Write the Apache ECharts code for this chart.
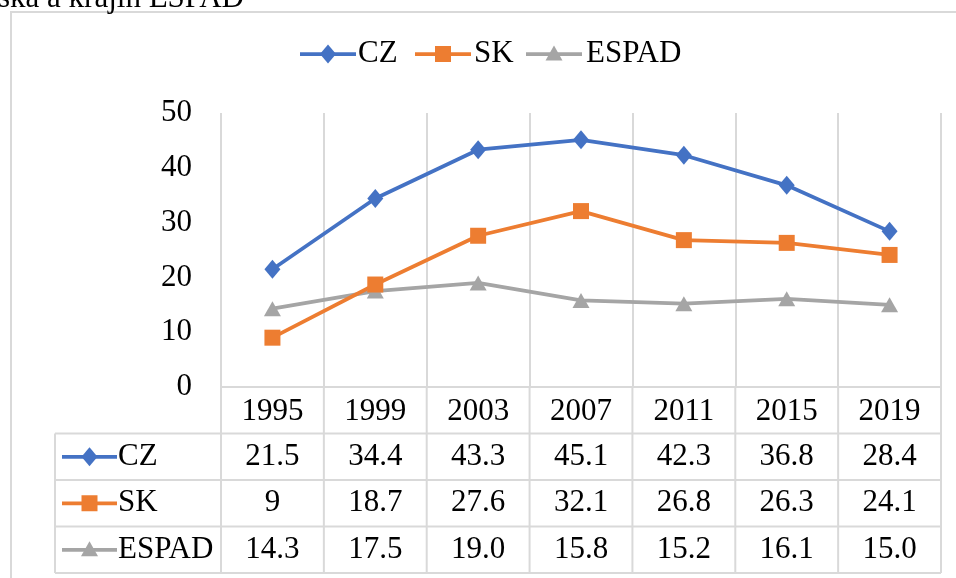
<!DOCTYPE html>
<html>
<head>
<meta charset="utf-8">
<script src="https://cdn.jsdelivr.net/npm/echarts@6/dist/echarts.min.js"></script>
<style>
html,body{margin:0;padding:0;background:#fff;}
#c{width:956px;height:578px;}
</style>
</head>
<body>
<div id="c"></div>
<script>
const titleText = 'ska a krajín ESPAD';
const years = ['1995','1999','2003','2007','2011','2015','2019'];
const seriesNames = ['CZ','SK','ESPAD'];
const cz = [21.5, 34.4, 43.3, 45.1, 42.3, 36.8, 28.4];
const sk = [9, 18.7, 27.6, 32.1, 26.8, 26.3, 24.1];
const espad = [14.3, 17.5, 19.0, 15.8, 15.2, 16.1, 15.0];
const tableLabels = [
  ['21.5','34.4','43.3','45.1','42.3','36.8','28.4'],
  ['9','18.7','27.6','32.1','26.8','26.3','24.1'],
  ['14.3','17.5','19.0','15.8','15.2','16.1','15.0']
];
const yTicks = [0, 10, 20, 30, 40, 50];

const FONT = '"Liberation Serif", "Times New Roman", serif';
const FS = 31;
const colors = ['#4472C4', '#ED7D31', '#A5A5A5'];
const symbols = ['diamond', 'rect', 'triangle'];
const symbolSizes = [[16, 19], 16, [17, 15]];
const GRID = '#D9D9D9';

const chart = echarts.init(document.getElementById('c'), null, {renderer: 'canvas'});

const values = [cz, sk, espad];
const option = {
  animation: false,
  backgroundColor: '#fff',
  color: colors,
  legend: {show: false, data: seriesNames},
  grid: {left: 221, right: 15, top: 113, bottom: 191, containLabel: false},
  xAxis: {
    type: 'category',
    data: years,
    boundaryGap: true,
    axisLine: {show: true, lineStyle: {color: GRID, width: 2}},
    axisTick: {show: false},
    splitLine: {show: true, interval: 0, lineStyle: {color: GRID, width: 2}},
    axisLabel: {interval: 0, fontFamily: FONT, fontSize: FS, color: '#000', margin: 9}
  },
  yAxis: {
    type: 'value',
    min: yTicks[0],
    max: yTicks[yTicks.length - 1],
    interval: 10,
    axisLine: {show: false},
    axisTick: {show: false},
    splitLine: {show: false},
    axisLabel: {fontFamily: FONT, fontSize: FS, color: '#000', margin: 29}
  },
  series: seriesNames.map((n, i) => ({
    name: n,
    type: 'line',
    data: values[i],
    symbol: symbols[i],
    symbolSize: symbolSizes[i],
    lineStyle: {width: 3.75, color: colors[i]},
    itemStyle: {color: colors[i]},
    z: 3 - i
  }))
};
chart.setOption(option);

const g = [];
const lineStyle = {stroke: GRID, lineWidth: 2};

function key(r, x1, x2, cy) {
  const mx = (x1 + x2) / 2;
  g.push({type: 'line', shape: {x1: x1, y1: cy, x2: x2, y2: cy}, style: {stroke: colors[r], lineWidth: 3.75}, silent: true});
  const ss = symbolSizes[r];
  const w = Array.isArray(ss) ? ss[0] : ss, h = Array.isArray(ss) ? ss[1] : ss;
  if (r === 0) {
    g.push({type: 'polygon', shape: {points: [[mx, cy - h / 2], [mx + w / 2, cy], [mx, cy + h / 2], [mx - w / 2, cy]]}, style: {fill: colors[r]}, silent: true});
  } else if (r === 1) {
    g.push({type: 'rect', shape: {x: mx - w / 2, y: cy - h / 2, width: w, height: h}, style: {fill: colors[r]}, silent: true});
  } else {
    g.push({type: 'polygon', shape: {points: [[mx, cy - h / 2 - 1], [mx + w / 2, cy + h / 2 - 1], [mx - w / 2, cy + h / 2 - 1]]}, style: {fill: colors[r]}, silent: true});
  }
}

// top legend
const legendKeys = [[300, 356], [415, 471], [526, 582]];
const legendTextX = [358, 474, 586];
for (let r = 0; r < 3; r++) {
  key(r, legendKeys[r][0], legendKeys[r][1], 54);
  g.push({type: 'text', x: legendTextX[r], y: 54, style: {text: seriesNames[r], font: FS + 'px ' + FONT, fill: '#000', textAlign: 'left', textVerticalAlign: 'middle'}, silent: true});
}

// data table under the chart
const xs = years.map((y, i) => chart.convertToPixel({xAxisIndex: 0}, i));
const axisY = chart.convertToPixel({yAxisIndex: 0}, 0);
const topY = chart.convertToPixel({yAxisIndex: 0}, yTicks[yTicks.length - 1]);
const catW = xs[1] - xs[0];
const leftX = xs[0] - catW / 2;
const rightX = xs[xs.length - 1] + catW / 2;
const rowH = 46.5;
const tableLeft = 55;
for (let r = 1; r <= 4; r++) {
  const y = axisY + rowH * r;
  g.push({type: 'line', shape: {x1: tableLeft, y1: y, x2: rightX, y2: y}, style: lineStyle, silent: true});
}
for (let c = 0; c <= years.length; c++) {
  const x = leftX + catW * c;
  g.push({type: 'line', shape: {x1: x, y1: (c === years.length ? topY : axisY), x2: x, y2: axisY + rowH * 4}, style: lineStyle, silent: true});
}
g.push({type: 'line', shape: {x1: tableLeft, y1: axisY + rowH, x2: tableLeft, y2: axisY + rowH * 4}, style: lineStyle, silent: true});
for (let r = 0; r < 3; r++) {
  const cy = axisY + rowH * (r + 1) + rowH / 2;
  key(r, 62, 117, cy);
  g.push({type: 'text', x: 118, y: cy, style: {text: seriesNames[r], font: FS + 'px ' + FONT, fill: '#000', textAlign: 'left', textVerticalAlign: 'middle'}, silent: true});
  for (let c = 0; c < years.length; c++) {
    g.push({type: 'text', x: xs[c], y: cy, style: {text: tableLabels[r][c], font: FS + 'px ' + FONT, fill: '#000', textAlign: 'center', textVerticalAlign: 'middle'}, silent: true});
  }
}
// outer frame (partially visible) and cut-off title
g.push({type: 'rect', shape: {x: 11, y: 12, width: 1000, height: 700}, style: {fill: null, stroke: '#D9D9D9', lineWidth: 2}, silent: true, z: -1});
g.push({type: 'text', x: -2, y: 14, style: {text: titleText, font: FS + 'px ' + FONT, fill: '#000', textAlign: 'left', textVerticalAlign: 'bottom'}, silent: true});
chart.setOption({graphic: g});
</script>
</body>
</html>
